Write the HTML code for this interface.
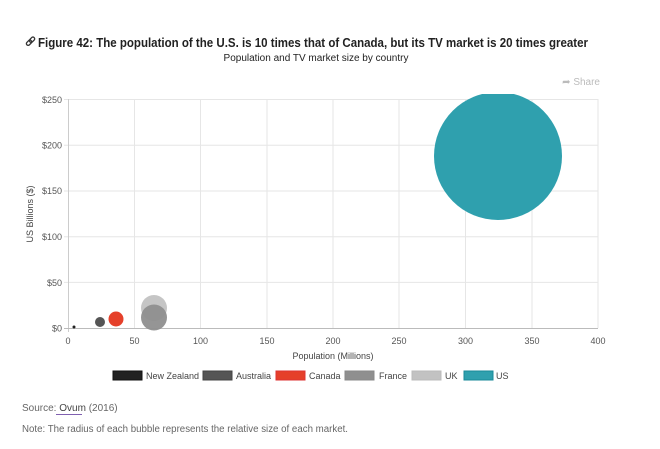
<!DOCTYPE html>
<html><head><style>
body{margin:0;background:#fff;width:660px;height:444px;overflow:hidden;font-family:"Liberation Sans",sans-serif;}
</style></head><body>
<svg width="660" height="444" xmlns="http://www.w3.org/2000/svg" font-family="Liberation Sans, sans-serif">
<g stroke="#333" stroke-width="1.3" fill="none">
<rect x="26" y="41" width="6" height="3.5" rx="1.7" transform="rotate(-45 29 42.7)"/>
<rect x="29" y="38" width="6" height="3.5" rx="1.7" transform="rotate(-45 32 39.7)"/>
</g>
<text x="38" y="47" font-size="13" font-weight="bold" fill="#222" textLength="550" lengthAdjust="spacingAndGlyphs">Figure 42: The population of the U.S. is 10 times that of Canada, but its TV market is 20 times greater</text>
<text x="316" y="61" font-size="10" fill="#222" text-anchor="middle">Population and TV market size by country</text>
<text x="600" y="85" font-size="10" fill="#bbb" text-anchor="end">➦ Share</text>
<g stroke="#e6e6e6" stroke-width="1">
<line x1="134.5" y1="99" x2="134.5" y2="328"/><line x1="200.5" y1="99" x2="200.5" y2="328"/><line x1="267" y1="99" x2="267" y2="328"/><line x1="333" y1="99" x2="333" y2="328"/><line x1="399" y1="99" x2="399" y2="328"/><line x1="465.5" y1="99" x2="465.5" y2="328"/><line x1="532" y1="99" x2="532" y2="328"/><line x1="598" y1="99" x2="598" y2="328"/>
<line x1="64" y1="99.5" x2="598" y2="99.5"/><line x1="64" y1="145.3" x2="598" y2="145.3"/><line x1="64" y1="191" x2="598" y2="191"/><line x1="64" y1="236.7" x2="598" y2="236.7"/><line x1="64" y1="282.4" x2="598" y2="282.4"/>
</g>
<line x1="68.5" y1="99" x2="68.5" y2="332" stroke="#ccc"/>
<line x1="64" y1="328.5" x2="598" y2="328.5" stroke="#bbb"/>
<g font-size="9" fill="#555" text-anchor="end">
<text x="62" y="103">$250</text><text x="62" y="148.5">$200</text><text x="62" y="194">$150</text><text x="62" y="240">$100</text><text x="62" y="286">$50</text><text x="62" y="331.5">$0</text>
</g>
<g font-size="9" fill="#555" text-anchor="middle">
<text x="68" y="344">0</text><text x="134.5" y="344">50</text><text x="200.5" y="344">100</text><text x="267" y="344">150</text><text x="333" y="344">200</text><text x="399" y="344">250</text><text x="465.5" y="344">300</text><text x="532" y="344">350</text><text x="598" y="344">400</text>
</g>
<text x="333" y="359" font-size="9" fill="#444" text-anchor="middle">Population (Millions)</text>
<text transform="translate(33,214) rotate(-90)" font-size="9" fill="#444" text-anchor="middle">US Billions ($)</text>
<defs><clipPath id="c"><rect x="68" y="94" width="540" height="240"/></clipPath></defs>
<g clip-path="url(#c)">
<circle cx="498" cy="156" r="64" fill="#2fa0ae"/>
</g>
<circle cx="154" cy="308" r="13" fill="#c2c2c2" opacity="0.95"/>
<circle cx="154" cy="317.5" r="13" fill="#8f8f8f" opacity="0.95"/>
<circle cx="116" cy="319" r="7.5" fill="#e5402a"/>
<circle cx="100" cy="322" r="5" fill="#555"/>
<circle cx="74" cy="327" r="1.5" fill="#222"/>
<g font-size="9" fill="#444">
<rect x="113" y="371" width="29" height="9" fill="#222" stroke="#111"/><text x="146" y="379">New Zealand</text>
<rect x="203" y="371" width="29" height="9" fill="#555" stroke="#444"/><text x="236" y="379">Australia</text>
<rect x="276" y="371" width="29" height="9" fill="#e5402a" stroke="#d33"/><text x="309" y="379">Canada</text>
<rect x="345" y="371" width="29" height="9" fill="#8f8f8f" stroke="#888"/><text x="379" y="379">France</text>
<rect x="412" y="371" width="29" height="9" fill="#c2c2c2" stroke="#bbb"/><text x="445" y="379">UK</text>
<rect x="464" y="371" width="29" height="9" fill="#2fa0ae" stroke="#1a8a98"/><text x="496" y="379">US</text>
</g>
<text x="22" y="411" font-size="10" fill="#666">Source: <tspan fill="#444">Ovum</tspan> (2016)</text>
<line x1="56" y1="414.5" x2="82" y2="414.5" stroke="#8060b0"/>
<text x="22" y="432" font-size="10" fill="#666" textLength="326" lengthAdjust="spacingAndGlyphs">Note: The radius of each bubble represents the relative size of each market.</text>
</svg>
</body></html>
